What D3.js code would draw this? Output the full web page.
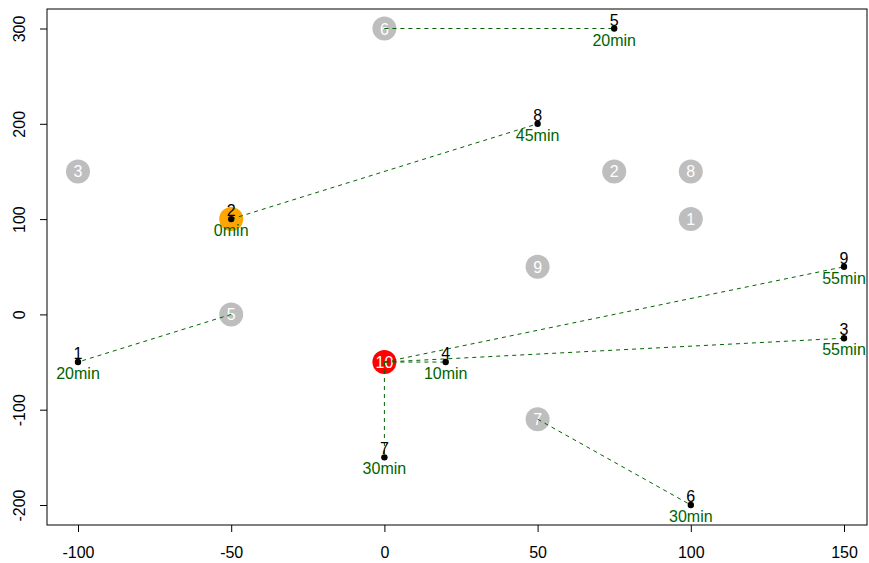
<!DOCTYPE html>
<html><head><meta charset="utf-8">
<script src="https://cdn.jsdelivr.net/npm/d3@7"></script>
<style>body{margin:0;background:#fff}svg{display:block}text{font-family:"Liberation Sans",Arial,sans-serif}</style>
</head><body><svg id="c" width="869" height="563"></svg>
<script>
// Customers (black dots)
const custLabel = ["1","2","3","4","5","6","7","8","9"];
const custX = [-100, -50, 150, 20, 75, 100, 0, 50, 150];
const custY = [-50, 100, -25, -50, 300, -200, -150, 200, 50];
const custMin = ["20min","0min","55min","10min","20min","30min","30min","45min","55min"];
// Vehicles (circles)
const vehLabel = ["1","2","3","4","5","6","7","8","9","10"];
const vehX = [100, 75, -100, -50, -50, 0, 50, 100, 50, 0];
const vehY = [100, 150, 150, 100, 0, 300, -110, 150, 50, -50];
const vehFill = ["#bebebe","#bebebe","#bebebe","orange","#bebebe","#bebebe","#bebebe","#bebebe","#bebebe","red"];
// Assignments: vehicle label -> customer label
const linkFrom = ["6","4","4","5","10","10","10","10","7"];
const linkTo   = ["5","8","2","1","9","3","4","7","6"];
const xTicks = [-100, -50, 0, 50, 100, 150];
const yTicks = [-200, -100, 0, 100, 200, 300];

const svg = d3.select("#c");
const x = d3.scaleLinear().domain([-100,150]).range([78,844]);
const y = d3.scaleLinear().domain([-200,300]).range([505,28.5]);
const L=47, R=867, T=9, B=525;

svg.append("rect").attr("x",L).attr("y",T).attr("width",R-L).attr("height",B-T)
  .attr("fill","none").attr("stroke","#000").attr("stroke-width",1);

const fmt = d => String(d);
const xa = svg.append("g").attr("transform",`translate(0,${B})`)
  .call(d3.axisBottom(x).tickValues(xTicks).tickSize(7).tickPadding(15).tickFormat(fmt));
xa.select(".domain").remove();
xa.selectAll("text").attr("font-size",16).attr("fill","#000").style("font-family","Liberation Sans, Arial");
const ya = svg.append("g").attr("transform",`translate(${L},0)`)
  .call(d3.axisLeft(y).tickValues(yTicks).tickSize(7).tickFormat(fmt));
ya.select(".domain").remove();
ya.selectAll("text").attr("font-size",16).attr("fill","#000").style("font-family","Liberation Sans, Arial")
  .attr("text-anchor","middle").attr("dy",null).attr("x",null)
  .attr("transform","translate(-28,0) rotate(-90)").attr("dominant-baseline","central");
svg.selectAll(".tick line").attr("stroke","#000");

// vehicle circles
const vg = svg.append("g");
vehLabel.forEach((lab,i)=>{
  vg.append("circle").attr("cx",x(vehX[i])).attr("cy",y(vehY[i])).attr("r",12).attr("fill",vehFill[i]);
  if (vehFill[i] !== "orange")
    vg.append("text").attr("x",x(vehX[i])).attr("y",y(vehY[i])+6).attr("text-anchor","middle")
      .attr("font-size",16).attr("fill","#fff").text(lab);
});

// links
linkFrom.forEach((f,k)=>{
  const vi = vehLabel.indexOf(f), ci = custLabel.indexOf(linkTo[k]);
  svg.append("line").attr("x1",x(vehX[vi])).attr("y1",y(vehY[vi]))
    .attr("x2",x(custX[ci])).attr("y2",y(custY[ci]))
    .attr("stroke","#006400").attr("stroke-width",1).attr("stroke-dasharray","4,4");
});

// customers
custLabel.forEach((lab,i)=>{
  const cx=x(custX[i]), cy=y(custY[i]);
  svg.append("circle").attr("cx",cx).attr("cy",cy).attr("r",3.2).attr("fill","#000");
  svg.append("text").attr("x",cx).attr("y",cy-3).attr("text-anchor","middle")
    .attr("font-size",16).attr("fill","#000").text(lab);
  svg.append("text").attr("x",cx).attr("y",cy+17).attr("text-anchor","middle")
    .attr("font-size",16).attr("fill","#006400").text(custMin[i]);
});
</script></body></html>
